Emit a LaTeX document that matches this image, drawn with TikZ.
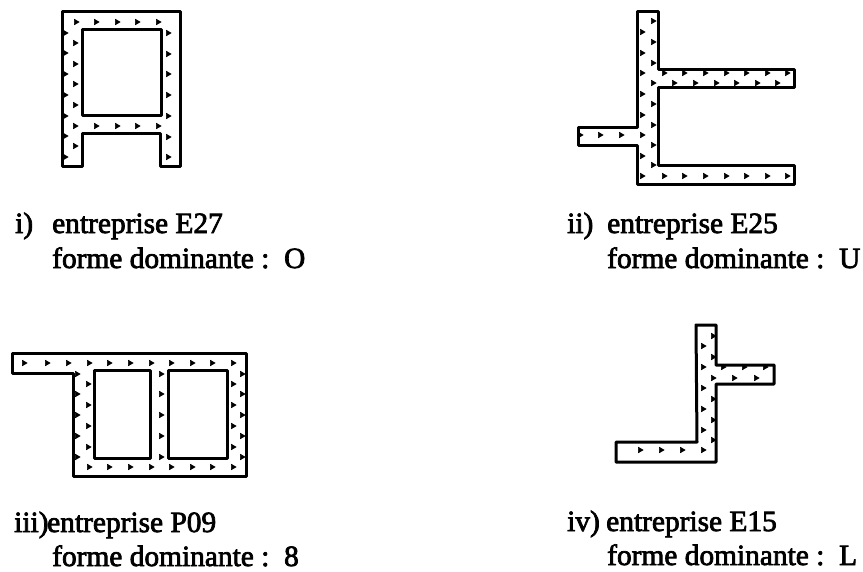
\documentclass[tikz,border=0pt]{standalone}
\usepackage{fontspec}
\newfontfamily\scanfont[FakeBold=2.5]{Liberation Serif}
\usetikzlibrary{plotmarks}
\tikzset{
	wall/.style={line width=3pt, line join=round},
	grain/.style={only marks, mark=triangle*, mark size=3.2pt, mark options={rotate=-90, fill=black}},
	legend/.style={anchor=base west, font=\scanfont\fontsize{29.4}{34}\selectfont, inner sep=0pt}
}

\begin{document}
\begin{tikzpicture}[x=1pt, y=-1pt]
	%%%%% START %%%%%
	\useasboundingbox (0, 0) rectangle (863, 571);

	% i
	\draw[wall] (62, 11) -- (180, 11) -- (180, 166) -- (160, 166) -- (160, 133) -- (82, 133) -- (82, 166) -- (62, 166) -- cycle;
	\draw[wall] (82, 29) rectangle (161, 115);
	\draw[grain] plot coordinates {(76, 22) (96, 22) (117, 22) (137, 22) (158, 22)
		(75, 43) (75, 64) (75, 84) (75, 105) (75, 126) (96, 126) (117, 126) (137, 126) (158, 126) (75, 146)
		(168, 33) (168, 54) (168, 74) (168, 95) (168, 116) (168, 137) (168, 157)
		(65, 33) (65, 53) (65, 74) (65, 95) (65, 116) (65, 136) (65, 157)};

	% ii
	\draw[wall] (637, 11) -- (658, 11) -- (658, 69) -- (794, 69) -- (794, 87) -- (658, 87) -- (658, 165) -- (794, 165) -- (794, 184) -- (637, 184) -- (637, 145) -- (578, 145) -- (578, 127) -- (637, 127) -- cycle;
	\draw[grain] plot coordinates {(653, 21) (653, 42) (653, 63) (642, 32) (642, 53) (642, 73) (642, 94) (642, 115) (642, 135) (642, 156) (642, 176)
		(653, 83) (653, 104) (653, 125) (653, 145) (653, 165)
		(664, 73) (684, 73) (705, 73) (726, 73) (746, 73) (767, 73) (787, 73)
		(674, 83) (695, 83) (716, 83) (736, 83) (757, 83) (777, 83)
		(664, 176) (684, 176) (705, 176) (726, 176) (746, 176) (767, 176) (787, 176)
		(580, 135) (600, 135) (621, 135)};

	% iii
	\draw[wall] (12, 353) -- (246, 353) -- (246, 476) -- (73, 476) -- (73, 373) -- (12, 373) -- cycle;
	\draw[wall] (94, 370) rectangle (150, 458);
	\draw[wall] (168, 370) rectangle (227, 458);
	\draw[grain] plot coordinates {(24, 363) (47, 363) (68, 363) (89, 363) (109, 363) (130, 363) (151, 363) (171, 363) (192, 363) (212, 363) (233, 363)
		(77, 374) (77, 394) (77, 415) (77, 436) (77, 457)
		(88, 384) (88, 405) (88, 426) (88, 447)
		(89, 467) (109, 467) (130, 467) (151, 467) (171, 467) (192, 467) (212, 467) (233, 467)
		(161, 374) (161, 394) (161, 415) (161, 436) (161, 457)
		(233, 384) (233, 405) (233, 426) (233, 447)
		(242, 374) (242, 394) (242, 415) (242, 436) (242, 457)};

	% iv
	\draw[wall] (696, 325) -- (716, 325) -- (716, 365) -- (774, 365) -- (774, 384) -- (716, 384) -- (716, 462) -- (616, 462) -- (616, 442) -- (697, 442) -- cycle;
	\draw[grain] plot coordinates {(703, 346) (703, 367) (703, 388) (703, 409) (703, 430) (703, 450)
		(713, 378) (734, 378) (756, 378) (640, 450) (661, 450) (682, 450)
		(713, 336) (713, 357) (713, 399) (713, 420) (713, 440)
		(723, 367) (744, 367) (765, 367)};

	% legends
	\node[legend] (labi) at (15, 233) {i)};
	\node[legend] (namei) at (52, 233) {entreprise E27};
	\node[legend] (formi) at (52, 268) {forme dominante :\ \ O};

	\node[legend] (labii) at (567, 233) {ii)};
	\node[legend] (nameii) at (607, 233) {entreprise E25};
	\node[legend] (formii) at (607, 268) {forme dominante :\ \ U};

	\node[legend] (labiii) at (14, 532) {iii)};
	\node[legend] (nameiii) at (47, 532) {entreprise P09};
	\node[legend] (formiii) at (52, 566) {forme dominante :\ \ 8};

	\node[legend] (labiv) at (567, 531) {iv)};
	\node[legend] (nameiv) at (606, 531) {entreprise E15};
	\node[legend] (formiv) at (607, 565) {forme dominante :\ \ L};
	%%%%% END %%%%%
\end{tikzpicture}
\end{document}
